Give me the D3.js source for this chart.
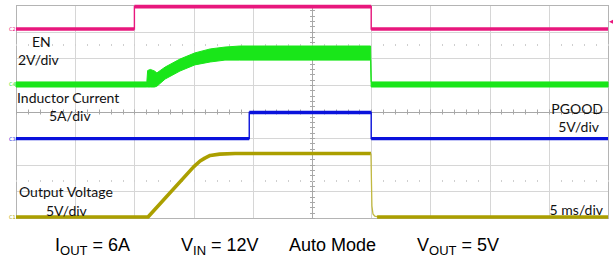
<!DOCTYPE html>
<html><head><meta charset="utf-8">
<script src="https://cdn.jsdelivr.net/npm/d3@7"></script>
<style>html,body{margin:0;padding:0;background:#fff;}svg{display:block;}</style>
</head><body>
<script>
// time in ms (5 ms/div, 10 div), levels in screen divisions (0 = bottom, 8 = top)
const xDivTicks = [0,5,10,15,20,25,30,35,40,45,50];
const yDivTicks = [0,1,2,3,4,5,6,7,8];

// EN (pink)
const enT = [0, 10.0, 10.0, 30.0, 30.0, 50];
const enV = [7.10, 7.10, 7.94, 7.94, 7.10, 7.10];

// Inductor current (green band: upper / lower envelope)
const ilT  = [0,    11.05, 11.12, 11.35, 11.70, 11.90, 12.60, 13.85, 15.10, 16.40, 17.65, 18.90, 29.95, 30.0, 50];
const ilHi = [5.11, 5.11,  5.54,  5.58,  5.52,  5.45,  5.67,  5.97,  6.20,  6.35,  6.42,  6.46,  6.46,  5.11, 5.11];
const ilLo = [4.92, 4.92,  4.92,  4.92,  4.92,  4.95,  5.22,  5.52,  5.75,  5.86,  5.93,  5.93,  5.93,  4.92, 4.92];

// PGOOD (blue)
const pgT = [0, 19.7, 19.7, 30.0, 30.0, 50];
const pgV = [2.98, 2.98, 3.96, 3.96, 2.98, 2.98];

// Output voltage (olive): rise, then fast discharge
const voRiseT = [0,    11.15, 15.0, 15.55, 15.95, 16.4, 17.2, 18.5, 29.98];
const voRiseV = [0.04, 0.04,  1.92, 2.14,  2.25,  2.35, 2.40, 2.42, 2.42];
const voFallT = [29.98, 30.02, 30.06, 30.15, 30.3, 30.6];
const voFallV = [2.42,  1.40,  0.45,  0.15,  0.07, 0.04];
const voLowT  = [30.5, 50];
const voLowV  = [0.04, 0.04];

const chLabels = [
  {text:"EN", x:32, y:47, anchor:"start"},
  {text:"2V/div", x:18, y:64.5, anchor:"start"},
  {text:"Inductor Current", x:17, y:103.3, anchor:"start"},
  {text:"5A/div", x:49, y:120.7, anchor:"start"},
  {text:"Output Voltage", x:19, y:196.7, anchor:"start"},
  {text:"5V/div", x:46, y:215.7, anchor:"start"},
  {text:"PGOOD", x:603, y:114.3, anchor:"end"},
  {text:"5V/div", x:599, y:131.7, anchor:"end"},
  {text:"5 ms/div", x:603, y:215, anchor:"end"}
];

const W = 613, H = 260;
const svg = d3.select("body").append("svg").attr("width", W).attr("height", H);
const x = d3.scaleLinear().domain([0,50]).range([16,608]);
const y = d3.scaleLinear().domain([0,8]).range([218,5]);

// grid
const g = svg.append("g");
g.selectAll(".vg").data(xDivTicks).join("line")
  .attr("x1", d=>Math.round(x(d))+0.5).attr("x2", d=>Math.round(x(d))+0.5)
  .attr("y1", y(8)).attr("y2", y(0))
  .attr("stroke", "#d6d6d6").attr("stroke-width", 1);
g.selectAll(".hg").data(yDivTicks).join("line")
  .attr("y1", d=>Math.round(y(d))+0.5).attr("y2", d=>Math.round(y(d))+0.5)
  .attr("x1", x(0)).attr("x2", x(50))
  .attr("stroke", "#d6d6d6").attr("stroke-width", 1);
// border
g.append("rect").attr("x", Math.round(x(0))+0.5).attr("y", Math.round(y(8))+0.5)
  .attr("width", Math.round(x(50))-Math.round(x(0))).attr("height", Math.round(y(0))-Math.round(y(8)))
  .attr("fill","none").attr("stroke","#b4b4b4");
// center axes with minor ticks
const minorX = d3.range(0, 50.01, 1);
const minorY = d3.range(0, 8.01, 0.2);
g.append("line").attr("x1", Math.round(x(25))+0.5).attr("x2", Math.round(x(25))+0.5)
  .attr("y1", y(8)).attr("y2", y(0)).attr("stroke","#a8a8a8");
g.append("line").attr("y1", Math.round(y(4))+0.5).attr("y2", Math.round(y(4))+0.5)
  .attr("x1", x(0)).attr("x2", x(50)).attr("stroke","#a8a8a8");
g.selectAll(".tx").data(minorX).join("line")
  .attr("x1", d=>Math.round(x(d))+0.5).attr("x2", d=>Math.round(x(d))+0.5)
  .attr("y1", y(4)-2).attr("y2", y(4)+3).attr("stroke","#a8a8a8");
g.selectAll(".ty").data(minorY).join("line")
  .attr("y1", d=>Math.round(y(d))+0.5).attr("y2", d=>Math.round(y(d))+0.5)
  .attr("x1", x(25)-2).attr("x2", x(25)+3).attr("stroke","#a8a8a8");
// faint dotted rows
[6.54, 1.43].forEach(r => {
  g.selectAll(null).data(minorX).join("rect")
    .attr("x", d=>Math.round(x(d))).attr("y", Math.round(y(r)))
    .attr("width",1).attr("height",2).attr("fill","#cfcfcf");
});

function pts(T, V){ return T.map((t,i)=>[t, V[i]]); }
const line = d3.line().x(d=>x(d[0])).y(d=>y(d[1]));

function stepTrace(T, V, color, thick){
  const p = pts(T, V);
  svg.append("path").attr("d", line(p)).attr("fill","none").attr("stroke", color).attr("stroke-width", 1.4);
  for (let i=0;i<p.length-1;i++){
    if (p[i][1] === p[i+1][1] && p[i][0] !== p[i+1][0]) {
      svg.append("path").attr("d", line([p[i], p[i+1]])).attr("fill","none")
        .attr("stroke", color).attr("stroke-width", thick);
    }
  }
}

// green band
const area = d3.area().x(d=>x(d[0])).y0(d=>y(d[2])).y1(d=>y(d[1]));
const ilPts = ilT.map((t,i)=>[t, ilHi[i], ilLo[i]]);
svg.append("path").attr("d", area(ilPts)).attr("fill","#19e619").attr("stroke","#19e619").attr("stroke-width",1);

// EN
stepTrace(enT, enV, "#e8177d", 3.6);
// PGOOD
stepTrace(pgT, pgV, "#0a12dc", 3.4);
// Output voltage
const voColor = "#ab9f00";
svg.append("path").attr("d", line(pts(voRiseT, voRiseV))).attr("fill","none")
  .attr("stroke",voColor).attr("stroke-width",3.6).attr("stroke-linejoin","round");
svg.append("path").attr("d", line(pts(voFallT, voFallV))).attr("fill","none")
  .attr("stroke","#c2b940").attr("stroke-width",1.3);
svg.append("path").attr("d", line(pts(voLowT, voLowV))).attr("fill","none")
  .attr("stroke",voColor).attr("stroke-width",3.4);

// channel ground markers
const markers = [
  {v: enV[0], c:"#e8177d", t:"C2"},
  {v: 5.02, c:"#19e619", t:"C4"},
  {v: pgV[0], c:"#0a12dc", t:"C3"},
  {v: 0.04, c:"#ab9f00", t:"C1"}
];
svg.selectAll(".mk").data(markers).join("text")
  .attr("x", 9).attr("y", d=>y(d.v)+2).attr("font-size", 5).attr("font-family","DejaVu Sans")
  .attr("fill", d=>d.c).text(d=>d.t);
// trigger arrow
svg.append("path").attr("d", `M${x(50)+1},${y(7.37)} l5,-2.5 l0,5 z`).attr("fill","#e8177d");

// labels
svg.selectAll(".lb").data(chLabels).join("text")
  .attr("x", d=>d.x).attr("y", d=>d.y).attr("text-anchor", d=>d.anchor)
  .attr("font-family", "Lato, 'Open Sans', sans-serif").attr("font-size", 14)
  .attr("fill", "#111").text(d=>d.text);

// bottom condition text
const conds = [
  {x:55, main:"I", sub:"OUT", rest:" = 6A"},
  {x:181, main:"V", sub:"IN", rest:" = 12V"},
  {x:289, main:"Auto Mode", sub:"", rest:""},
  {x:417, main:"V", sub:"OUT", rest:" = 5V"}
];
conds.forEach(c => {
  const t = svg.append("text").attr("x", c.x).attr("y", 250.5)
    .attr("font-family","'Liberation Sans', Arial, sans-serif").attr("font-size", 18).attr("fill","#000");
  t.append("tspan").text(c.main);
  if (c.sub) {
    t.append("tspan").attr("font-size", 13).attr("dy", 4).text(c.sub);
    t.append("tspan").attr("dy", -4).text(c.rest);
  }
});
</script>
</body></html>
